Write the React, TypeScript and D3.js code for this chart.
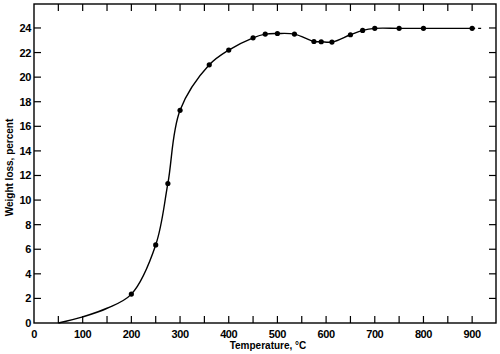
import React from 'react';
import * as d3 from 'd3';

// measured points (dots drawn)
const temps = [200, 250, 275, 300, 360, 400, 450, 475, 500, 535, 575, 590, 612, 650, 675, 700, 750, 800, 900];
const losses = [2.35, 6.35, 11.35, 17.3, 21.0, 22.2, 23.2, 23.5, 23.55, 23.5, 22.9, 22.88, 22.85, 23.45, 23.8, 23.97, 23.97, 23.97, 23.97];

// curve-only points (no dots)
const leadTemps = [50, 100, 150];
const leadLosses = [0, 0.5, 1.2];

// dashed extrapolation past the last point
const tailTemps = [900, 922];
const tailLosses = [23.97, 23.97];

const xTickLabels = [0, 100, 200, 300, 400, 500, 600, 700, 800, 900];
const xMinorTicks = d3.range(50, 950, 50);
const yTicks = [0, 2, 4, 6, 8, 10, 12, 14, 16, 18, 20, 22, 24];

const width = 500;
const height = 354;
const margin = { top: 4, right: 4, bottom: 31, left: 34 };

const App: React.FC = () => {
  const innerW = width - margin.left - margin.right;
  const innerH = height - margin.top - margin.bottom;

  const x = d3.scaleLinear().domain([0, 949]).range([margin.left, margin.left + innerW]);
  const y = d3.scaleLinear().domain([0, 25.95]).range([margin.top + innerH, margin.top]);

  const line = d3.line<[number, number]>()
    .x(d => x(d[0]))
    .y(d => y(d[1]))
    .curve(d3.curveCatmullRom.alpha(0.5));

  const curvePts: [number, number][] = [
    ...leadTemps.map((t, i) => [t, leadLosses[i]] as [number, number]),
    ...temps.map((t, i) => [t, losses[i]] as [number, number])
  ];
  const tailPts: [number, number][] = tailTemps.map((t, i) => [t, tailLosses[i]]);

  const font = '"Liberation Sans", Arial, sans-serif';
  const x0 = margin.left;
  const x1 = margin.left + innerW;
  const y0 = margin.top + innerH;
  const y1 = margin.top;
  const tk = 7;

  return (
    <svg width={width} height={height} style={{ position: 'absolute', left: 0, top: 0, background: '#fff' }}>
      <rect x={x0} y={y1} width={innerW} height={innerH} fill="none" stroke="#000" strokeWidth={1.4} />

      {/* x ticks, bottom and top */}
      {xMinorTicks.map(t => (
        <g key={'xt' + t}>
          <line x1={x(t)} x2={x(t)} y1={y0} y2={y0 - tk} stroke="#000" strokeWidth={1.2} />
          <line x1={x(t)} x2={x(t)} y1={y1} y2={y1 + tk} stroke="#000" strokeWidth={1.2} />
        </g>
      ))}
      {xTickLabels.map(t => (
        <text key={'xl' + t} x={x(t)} y={y0 + 15} textAnchor="middle" fontFamily={font}
          fontWeight="bold" fontSize={11} letterSpacing={-0.4}>{t}</text>
      ))}

      {/* y ticks, left and right */}
      {yTicks.map(t => (
        <g key={'yt' + t}>
          {t > 0 && <line x1={x0} x2={x0 + tk} y1={y(t)} y2={y(t)} stroke="#000" strokeWidth={1.2} />}
          {t > 0 && <line x1={x1} x2={x1 - tk} y1={y(t)} y2={y(t)} stroke="#000" strokeWidth={1.2} />}
          <text x={x0 - 3} y={y(t) + 4} textAnchor="end" fontFamily={font}
            fontWeight="bold" fontSize={11} letterSpacing={-0.4}>{t}</text>
        </g>
      ))}

      <path d={line(curvePts) || ''} fill="none" stroke="#000" strokeWidth={1.4} />
      <path d={line(tailPts) || ''} fill="none" stroke="#000" strokeWidth={1.4} strokeDasharray="3,3" />

      {temps.map((t, i) => (
        <circle key={'p' + t} cx={x(t)} cy={y(losses[i])} r={2.6} fill="#000" />
      ))}

      <text x={(x0 + x1) / 2 + 3} y={349} textAnchor="middle" fontFamily={font} fontSize={10}
        fontWeight="bold">Temperature, °C</text>
      <text transform={`translate(13, ${(y0 + y1) / 2 + 4}) rotate(-90)`} textAnchor="middle"
        fontFamily={font} fontSize={10} fontWeight="bold">Weight loss, percent</text>
    </svg>
  );
};

export default App;
